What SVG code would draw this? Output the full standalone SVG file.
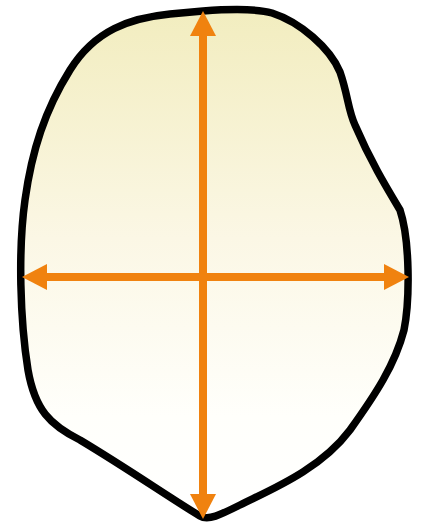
<svg xmlns="http://www.w3.org/2000/svg" width="426" height="524" viewBox="0 0 426 524">
<defs>
<linearGradient id="fill" x1="0" y1="0" x2="0" y2="1">
<stop offset="0" stop-color="#f2edbf"/>
<stop offset="0.45" stop-color="#fbf7e5"/>
<stop offset="0.8" stop-color="#fffffb"/>
<stop offset="1" stop-color="#ffffff"/>
</linearGradient>
<style>
.blob{fill:url(#fill);stroke:#000;stroke-width:7.5;stroke-linejoin:round}
.arr{stroke:#f0820f;stroke-width:8;fill:none}
.head{fill:#f0820f}
</style>
</defs>
<g id="shape">
<path class="blob" d="M203,11 C230,9 258,9 272,13 C300,22 330,48 340,72 C348,95 348,110 355,125 C370,160 385,185 400,210 C410,240 410,300 404,330 C395,365 375,395 350,430 C320,470 270,490 240,505 C220,515 208,521 200,516 C170,498 130,470 80,440 C50,425 35,410 28,370 C20,320 18,250 25,200 C32,150 45,110 70,70 C95,30 130,18 170,14 Z"/>
</g>
<g id="connectors">
<line class="arr" x1="203" y1="34" x2="203" y2="496"/>
<polygon class="head" points="203,11 190,36 216,36"/>
<polygon class="head" points="203,519 190,494 216,494"/>
<line class="arr" x1="45" y1="277" x2="386" y2="277"/>
<polygon class="head" points="22,277 47,264 47,290"/>
<polygon class="head" points="409,277 384,264 384,290"/>
</g>
</svg>
